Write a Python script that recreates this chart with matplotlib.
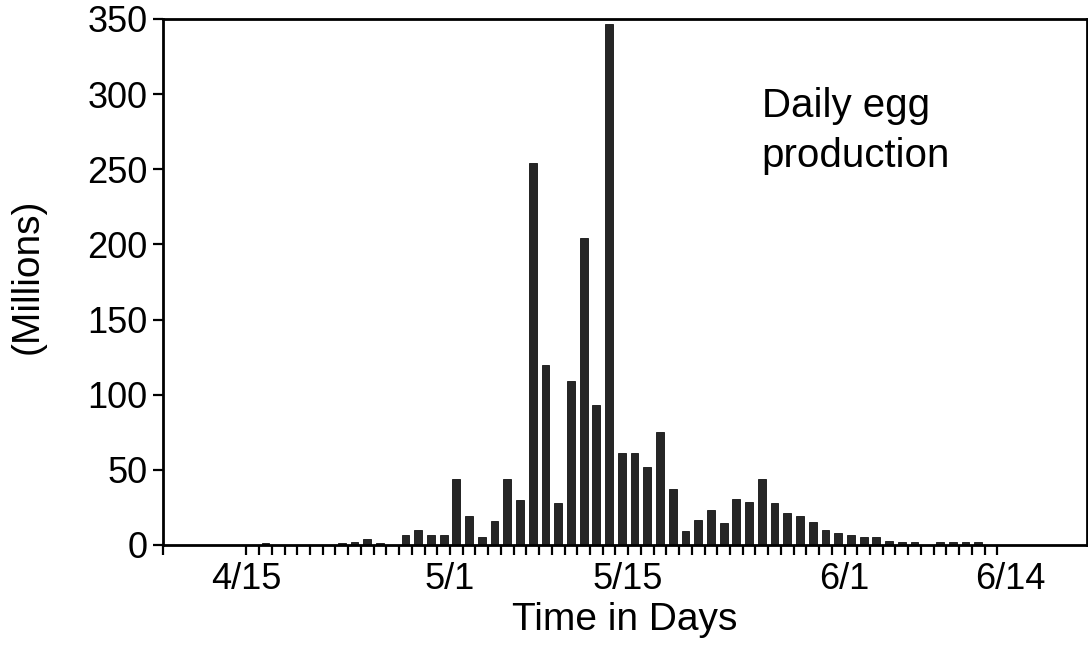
import numpy as np
import matplotlib
matplotlib.use("Agg")
import matplotlib.pyplot as plt

# daily egg production (millions), one value per day starting 4/15
eggs = [0, 1.5, 0, 0, 0, 0, 0, 1.5, 2, 4,
        1.5, 0, 6.5, 10, 6.5, 6.5, 44, 19, 5, 16,
        44, 30, 254, 120, 28, 109, 204, 93, 347, 61,
        61, 52, 75, 37, 9, 16.5, 23.5, 14.5, 30.5, 28.5,
        44, 28, 21, 19, 15.5, 10, 8, 6.5, 5, 5,
        2.5, 2, 2, 0, 2, 2, 2, 2, 0, 0]
dateLabels = ['4/15', '5/1', '5/15', '6/1', '6/14']
dateDays = [0, 16, 30, 47, 60]   # days after 4/15
yTicks = [0, 50, 100, 150, 200, 250, 300, 350]

plt.rcParams['font.family'] = ['Liberation Sans', 'DejaVu Sans']

fig = plt.figure(figsize=(10.88, 6.54), dpi=100)
ax = fig.add_axes([163/1088, 1 - 545/654, (1087 - 163)/1088, (545 - 19)/654])

days = np.arange(len(eggs))
# bars sit between the day ticks
ax.bar(days + 0.5, eggs, width=0.62, color='#262626', edgecolor='#111111', linewidth=0.6)

ax.set_xlim(-6.55, 66.05)
ax.set_ylim(0, 350)

# labels on major ticks (no mark), a small mark for every day on minor ticks
ax.xaxis.remove_overlapping_locs = False
ax.set_xticks(dateDays)
ax.set_xticklabels(dateLabels)
ax.set_xticks(list(range(0, 60)) + [-6.55], minor=True)
ax.tick_params(axis='x', which='major', length=0, pad=12, labelsize=26)
ax.tick_params(axis='x', which='minor', length=7, width=1.6, direction='out')

ax.set_yticks(yTicks)
ax.tick_params(axis='y', length=7, width=1.6, pad=4, labelsize=26)

for sp in ax.spines.values():
    sp.set_linewidth(2.0)

ax.set_xlabel('Time in Days', fontsize=28, labelpad=4)
ax.set_ylabel('(Millions)', fontsize=28)
ax.yaxis.set_label_coords(-0.127, 0.51)

ax.text(0.648, 0.814, 'Daily egg', transform=ax.transAxes, fontsize=29, va='baseline', ha='left')
ax.text(0.648, 0.719, 'production', transform=ax.transAxes, fontsize=29, va='baseline', ha='left')

fig.savefig('out.png', dpi=100)
